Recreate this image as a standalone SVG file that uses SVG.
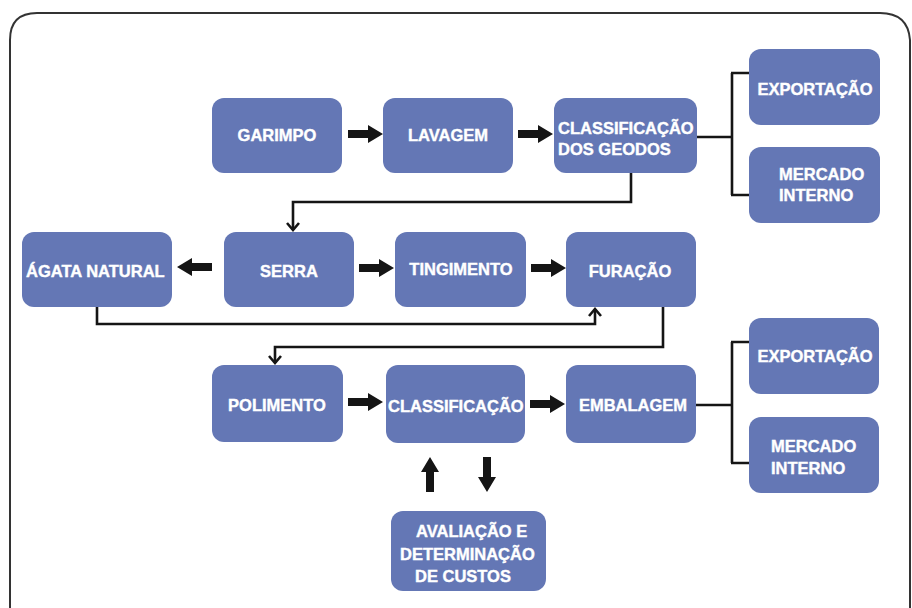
<svg xmlns="http://www.w3.org/2000/svg" width="912" height="608" viewBox="0 0 912 608">
<defs>
<style>
.n{fill:#6477b5}
.t{fill:#fff;stroke:#fff;stroke-width:0.4;font-family:"Liberation Sans",Arial,sans-serif;font-weight:bold;font-size:16.5px}
.c{text-anchor:middle}
.w{fill:none;stroke:#151515;stroke-width:2.6;stroke-linejoin:miter}
.b{fill:#151515}
</style>
<path id="blk" d="M0,-4 H20 V-9 L35,0 L20,9 V4 H0 Z"/>
<marker id="chev" markerUnits="userSpaceOnUse" markerWidth="16" markerHeight="16" refX="8" refY="8" orient="auto">
<polyline points="2,1 8,8 14,1" fill="none" stroke="#151515" stroke-width="2.6" transform="rotate(-90 8 8)"/>
</marker>
</defs>
<rect width="912" height="608" fill="#fff"/>
<path d="M10,620 V40 Q10,13 37,13 H880 Q908,13 910,40 V620" fill="none" stroke="#333" stroke-width="2"/>

<g id="connectors">
<use href="#blk" class="b" transform="translate(348,134)"/>
<use href="#blk" class="b" transform="translate(518,134)"/>
<use href="#blk" class="b" transform="translate(212,267) scale(-1,1)"/>
<use href="#blk" class="b" transform="translate(359,268)"/>
<use href="#blk" class="b" transform="translate(531,268)"/>
<use href="#blk" class="b" transform="translate(348,402)"/>
<use href="#blk" class="b" transform="translate(530,404)"/>
<use href="#blk" class="b" transform="translate(430,492) rotate(-90)"/>
<use href="#blk" class="b" transform="translate(487,457) rotate(90)"/>
<path class="w" d="M697,137 H732 M732,73 V195 M731,73 H749 M731,195 H749"/>
<path class="w" d="M696,405 H732 M732,342 V463 M731,342 H749 M731,463 H749"/>
<path class="w" d="M631,173 V202 H293 V230" marker-end="url(#chev)"/>
<path class="w" d="M97,307 V324 H595 V309" marker-end="url(#chev)"/>
<path class="w" d="M663,307 V347 H275 V363" marker-end="url(#chev)"/>
</g>

<g id="garimpo"><rect class="n" x="212" y="98" width="130" height="75" rx="12"/><text class="t c" x="277" y="141">GARIMPO</text></g>
<g id="lavagem"><rect class="n" x="383" y="98" width="130" height="75" rx="12"/><text class="t c" x="448" y="141">LAVAGEM</text></g>
<g id="classificacao-geodos"><rect class="n" x="554" y="98" width="143" height="75" rx="12"/><text class="t" x="558" y="134">CLASSIFICAÇÃO</text><text class="t" x="558" y="155">DOS GEODOS</text></g>
<g id="exportacao1"><rect class="n" x="749" y="49" width="131" height="76" rx="12"/><text class="t c" x="815" y="95">EXPORTAÇÃO</text></g>
<g id="mercado1"><rect class="n" x="749" y="147" width="131" height="76" rx="12"/><text class="t" x="779" y="180">MERCADO</text><text class="t" x="779" y="201">INTERNO</text></g>

<g id="agata"><rect class="n" x="22" y="232" width="150" height="75" rx="12"/><text class="t" x="26" y="277">ÁGATA NATURAL</text></g>
<g id="serra"><rect class="n" x="224" y="232" width="130" height="75" rx="12"/><text class="t c" x="289" y="277">SERRA</text></g>
<g id="tingimento"><rect class="n" x="395" y="232" width="131" height="75" rx="12"/><text class="t c" x="461" y="275">TINGIMENTO</text></g>
<g id="furacao"><rect class="n" x="566" y="232" width="130" height="75" rx="12"/><text class="t c" x="630" y="277">FURAÇÃO</text></g>

<g id="polimento"><rect class="n" x="212" y="365" width="131" height="77" rx="12"/><text class="t c" x="277" y="411">POLIMENTO</text></g>
<g id="classificacao"><rect class="n" x="386" y="365" width="139" height="78" rx="12"/><text class="t" x="388" y="412">CLASSIFICAÇÃO</text></g>
<g id="embalagem"><rect class="n" x="566" y="365" width="130" height="78" rx="12"/><text class="t c" x="633" y="411">EMBALAGEM</text></g>
<g id="exportacao2"><rect class="n" x="749" y="318" width="130" height="76" rx="12"/><text class="t c" x="815" y="362">EXPORTAÇÃO</text></g>
<g id="mercado2"><rect class="n" x="749" y="417" width="130" height="76" rx="12"/><text class="t" x="771" y="452">MERCADO</text><text class="t" x="771" y="474">INTERNO</text></g>
<g id="avaliacao"><rect class="n" x="391" y="511" width="155" height="80" rx="12"/><text class="t" x="416" y="537">AVALIAÇÃO E</text><text class="t" x="400" y="560">DETERMINAÇÃO</text><text class="t" x="415" y="582">DE CUSTOS</text></g>
</svg>
